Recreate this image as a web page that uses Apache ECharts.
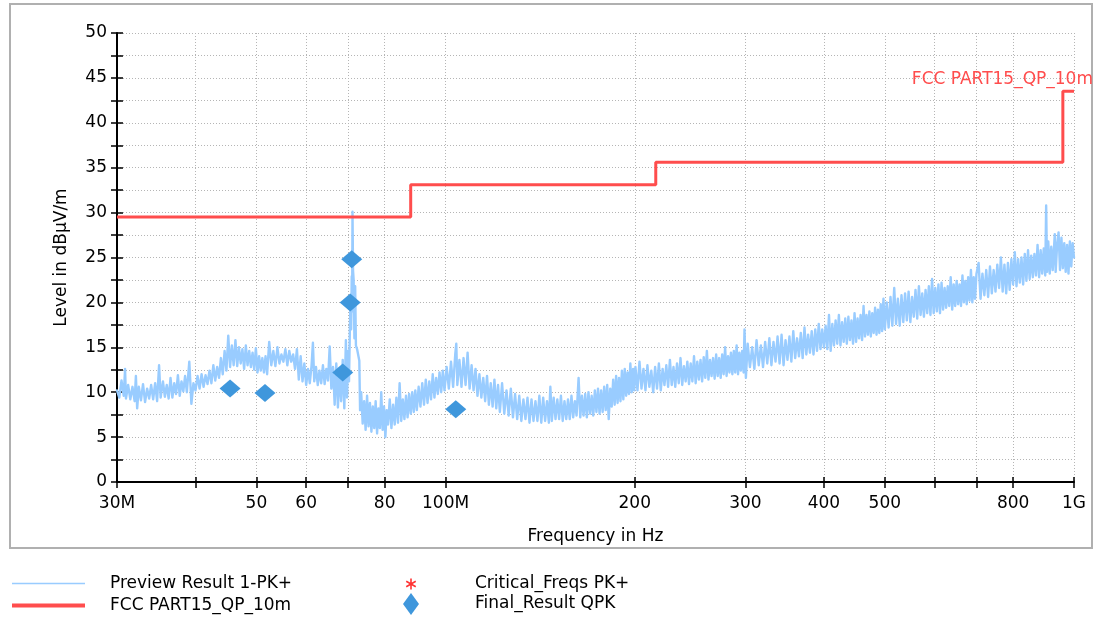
<!DOCTYPE html>
<html>
<head>
<meta charset="utf-8">
<script src="https://cdn.jsdelivr.net/npm/echarts@6/dist/echarts.min.js"></script>
<style>
  html, body { margin: 0; padding: 0; background: #fff; }
  #chart { width: 1102px; height: 617px; }
</style>
</head>
<body>
<div id="chart"></div>
<script>
// frequency in MHz, level in dBµV/m
var previewTrace = [
  // 30 - 40 MHz
  [30.00,10.2],[30.25,9.4],[30.50,11.3],[30.75,9.6],[30.90,12.6],[31.00,9.3],[31.25,10.8],[31.50,9.2],[31.75,10.6],[32.00,9.0],
  [32.15,11.8],[32.30,8.2],[32.50,10.6],[32.75,9.1],[33.00,10.9],[33.25,8.9],[33.50,10.4],[33.75,9.3],[34.00,10.8],[34.25,9.2],
  [34.50,11.0],[34.75,9.0],[35.00,13.0],[35.20,9.4],[35.50,11.2],[35.75,9.5],[36.00,10.8],[36.25,9.3],[36.50,11.6],[36.75,9.4],
  [37.00,11.0],[37.25,9.8],[37.50,11.9],[37.75,9.6],[38.00,11.2],[38.25,10.1],[38.50,11.8],[38.75,10.0],[39.10,13.4],[39.40,8.7],
  [39.70,11.0],[40.00,10.2],
  // 40 - 52 MHz
  [40.3,11.8],[40.6,10.4],[40.9,12.0],[41.2,10.6],[41.5,11.9],[41.8,10.9],[42.1,12.4],[42.4,11.0],[42.7,13.0],[43.0,11.3],
  [43.3,12.8],[43.6,11.6],[43.9,13.8],[44.2,12.0],[44.5,14.6],[44.8,12.4],[45.1,16.3],[45.4,12.8],[45.7,15.2],[46.0,13.0],
  [46.3,15.8],[46.6,12.9],[46.9,15.0],[47.2,13.2],[47.5,14.8],[47.8,12.6],[48.1,15.2],[48.4,13.0],[48.7,14.6],[49.0,12.8],
  [49.3,14.4],[49.6,12.5],[49.9,14.9],[50.2,12.2],[50.5,14.0],[50.8,12.4],[51.1,13.8],[51.4,12.2],[51.7,14.0],[52.0,12.0],
  // 52 - 70 MHz
  [52.4,15.6],[52.8,13.0],[53.2,14.6],[53.6,12.9],[54.0,15.0],[54.4,13.2],[54.8,14.2],[55.2,13.4],[55.6,14.8],[56.0,13.0],
  [56.4,14.6],[56.8,13.4],[57.2,14.2],[57.6,12.6],[58.0,14.8],[58.4,11.4],[58.8,14.0],[59.2,11.2],[59.6,13.2],[60.0,10.8],
  [60.4,12.6],[60.8,11.0],[61.2,13.0],[61.5,15.5],[61.8,11.2],[62.2,12.8],[62.6,10.8],[63.0,12.4],[63.4,11.0],[63.8,13.0],
  [64.2,10.9],[64.6,12.6],[65.0,11.3],[65.4,15.1],[65.8,10.4],[66.2,12.8],[66.6,8.6],[67.0,13.2],[67.4,8.3],[67.8,12.2],
  [68.2,9.0],[68.6,13.6],[69.0,8.2],[69.4,15.8],[69.7,9.4],[70.0,14.6],
  // emission around 71 MHz
  [70.2,11.2],[70.4,16.5],[70.6,20.6],[70.75,17.0],[70.9,22.9],[71.0,19.0],[71.1,30.1],[71.25,23.5],[71.4,22.5],[71.6,16.0],
  [71.8,21.8],[72.0,15.2],[72.3,14.8],[72.6,14.9],[72.9,13.5],[73.1,8.0],
  // 73 - 100 MHz
  [73.4,10.0],[73.8,6.5],[74.2,9.0],[74.6,5.8],[75.0,9.6],[75.4,6.2],[75.8,8.8],[76.2,5.6],[76.6,8.4],[77.0,6.0],
  [77.4,9.0],[77.8,5.4],[78.2,8.2],[78.6,6.0],[79.0,10.0],[79.4,5.8],[79.8,8.4],[80.2,5.0],[80.6,8.0],[81.0,6.4],
  [81.5,9.2],[82.0,6.0],[82.5,8.6],[83.0,6.4],[83.5,9.4],[84.0,6.6],[84.5,11.0],[85.0,6.8],[85.5,9.2],[86.0,7.0],
  [86.5,9.6],[87.0,7.2],[87.5,9.8],[88.0,7.6],[88.5,10.0],[89.0,7.8],[89.5,10.2],[90.0,8.0],[90.6,10.6],[91.2,8.4],
  [91.8,11.0],[92.4,8.6],[93.0,11.4],[93.6,8.8],[94.2,11.2],[94.8,9.2],[95.4,12.0],[96.0,9.4],[96.6,11.6],[97.2,9.8],
  [97.8,12.2],[98.4,10.0],[99.0,12.4],[99.6,10.2],
  // 100 - 200 MHz
  [100.4,12.8],[101.2,10.4],[102.0,13.4],[102.8,10.6],[103.6,14.2],[104.0,15.4],[104.4,10.8],[105.2,13.6],[106.0,10.6],[106.8,13.8],
  [107.6,10.8],[108.4,14.4],[109.2,10.4],[110.0,13.0],[110.8,10.2],[111.6,12.6],[112.4,9.6],[113.2,12.0],[114.0,9.4],[114.8,11.6],
  [115.6,9.0],[116.4,11.8],[117.2,8.6],[118.0,11.0],[118.8,8.4],[119.6,11.4],[120.4,8.2],[121.2,10.8],[122.0,7.8],[123.0,11.0],
  [124.0,7.6],[125.0,10.2],[126.0,7.4],[127.0,10.4],[128.0,7.2],[129.0,9.8],[130.0,7.0],
  [131.0,9.6],[132.0,6.8],[133.0,9.2],[134.0,7.0],[135.0,9.4],[136.0,6.6],[137.0,9.2],[138.0,6.8],[139.0,9.0],[140.0,6.8],
  [141.0,9.6],[142.0,6.6],[143.0,9.4],[144.0,6.8],[145.0,9.0],[146.0,6.6],[146.8,10.6],[147.6,6.8],[148.6,9.4],[149.6,7.0],
  [150.6,9.2],[151.6,7.0],[152.6,9.6],[153.6,6.8],[154.6,9.0],[155.6,7.0],[156.6,9.2],[157.6,7.0],[158.6,9.6],[159.6,7.2],
  [160.6,9.0],[161.6,7.4],[162.8,11.6],[163.8,7.2],[164.8,9.6],[165.8,7.4],[166.8,9.8],[167.8,7.2],[168.8,10.0],[169.8,7.6],
  [170.8,9.6],[171.8,7.4],[172.8,10.2],[173.8,7.8],[174.8,10.4],[175.8,7.6],[176.8,10.2],[177.8,7.8],[178.8,10.6],[179.8,8.0],
  [180.8,10.8],[181.8,7.0],[182.8,10.4],[183.8,8.4],[184.8,11.4],[185.8,8.6],[186.8,11.8],[187.8,8.8],[188.8,11.6],[189.8,9.0],
  [190.8,12.4],[191.8,9.2],[192.8,12.6],[193.8,9.6],[194.8,12.2],[195.8,9.8],[196.8,13.2],[197.8,10.0],[198.8,12.6],[199.6,10.2],
  // 200 - 300 MHz
  [200.5,12.8],[202,10.2],[203.5,13.4],[205,10.4],[206.5,12.6],[208,10.2],[209.5,13.0],[211,10.6],[212.5,12.4],[214,10.0],
  [215.5,12.8],[217,10.4],[218.5,13.2],[220,10.2],[221.5,12.6],[223,10.8],[224.5,13.0],[226,10.6],[227.5,13.6],[229,10.8],
  [230.5,12.8],[232,10.6],[233.5,13.2],[235,11.0],[236.5,13.8],[238,10.8],[239.5,12.9],[241,11.2],[242.5,13.4],[244,10.9],
  [245.5,13.2],[247,11.2],[248.5,14.0],[250,11.0],[251.5,13.4],[253,11.4],[254.5,13.6],[256,11.2],[257.5,13.9],[259,11.6],
  [260.5,14.6],[262,11.4],[263.5,13.6],[265,11.8],[266.5,13.8],[268,11.5],[269.5,14.2],[271,11.8],[272.5,13.8],[274,11.6],
  [275.5,14.2],[277,12.0],[278.5,15.0],[280,11.8],[281.5,14.0],[283,12.2],[284.5,14.4],[286,12.0],[287.5,14.6],[289,12.2],
  [290.5,15.2],[292,12.0],[293.5,14.4],[295,12.4],[296.5,14.6],[298,12.2],[299,17.0],[300.5,11.6],
  // 300 - 500 MHz
  [302.5,15.4],[305,12.8],[307.5,15.0],[310,12.6],[312.5,15.8],[315,13.0],[317.5,15.2],[320,12.8],[322.5,15.6],[325,13.2],
  [327.5,16.0],[330,13.0],[332.5,15.6],[335,13.4],[337.5,16.2],[340,13.2],[342.5,16.4],[345,13.0],[347.5,15.8],[350,13.6],
  [352.5,16.2],[355,13.4],[357.5,16.8],[360,13.8],[362.5,16.0],[365,14.0],[367.5,16.6],[370,13.8],[372.5,17.2],[375,14.2],
  [377.5,16.4],[380,14.4],[382.5,16.8],[385,14.2],[387.5,17.0],[390,14.6],[392.5,17.6],[395,14.8],[397.5,17.0],[400,15.0],
  [402.5,17.4],[405,14.8],[407.5,18.6],[410,14.6],[412.5,17.6],[415,15.2],[417.5,18.0],[420,15.4],[422.5,18.6],[425,15.2],
  [427.5,17.8],[430,15.6],[432.5,18.2],[435,15.4],[437.5,18.4],[440,15.8],[442.5,18.0],[445,15.4],[447.5,18.8],[450,15.6],
  [452.5,18.2],[455,16.0],[457.5,18.6],[460,15.8],[462.5,19.6],[465,16.2],[467.5,18.6],[470,16.4],[472.5,19.0],[475,16.2],
  [477.5,18.8],[480,16.6],[482.5,19.4],[485,16.4],[487.5,19.2],[490,16.6],[492.5,19.8],[495,16.8],[497.5,20.4],[500,17.0],
  // 500 - 700 MHz
  [503.5,20.0],[507,17.2],[510.5,20.6],[514,17.4],[517.5,21.6],[521,17.6],[524.5,20.4],[528,17.4],[531.5,20.8],[535,17.8],
  [538.5,21.0],[542,18.0],[545.5,21.2],[549,17.8],[552.5,20.6],[556,18.4],[559.5,21.4],[563,18.2],[566.5,21.8],[570,18.6],
  [573.5,21.0],[577,18.4],[580.5,21.4],[584,18.8],[587.5,21.8],[591,18.6],[594.5,22.6],[598,18.8],[601.5,21.6],[605,19.0],
  [608.5,22.0],[612,18.8],[615.5,22.2],[619,19.2],[622.5,21.6],[626,19.4],[629.5,21.8],[633,19.6],[636.5,22.8],[640,19.2],
  [643.5,22.0],[647,19.6],[650.5,22.4],[654,19.8],[657.5,22.0],[661,19.6],[664.5,23.0],[668,20.0],[671.5,22.4],[675,19.8],
  [678.5,22.8],[682,20.2],[685.5,23.6],[689,20.0],[692.5,22.8],[696,20.4],[699.5,23.2],
  // 700 - 1000 MHz
  [705,24.4],[710,20.4],[715,23.2],[720,20.8],[725,23.6],[730,20.6],[735,24.0],[740,21.0],[745,23.6],[750,21.2],
  [755,24.2],[760,21.6],[765,25.0],[770,21.2],[775,24.2],[780,21.0],[785,24.4],[790,21.4],[795,24.8],[800,22.0],
  [805,25.6],[810,21.8],[815,24.8],[820,22.2],[825,25.0],[830,22.0],[835,25.4],[840,22.4],[845,25.8],[850,22.6],
  [855,25.2],[860,22.8],[865,25.4],[870,23.0],[875,26.4],[880,22.8],[885,25.8],[890,23.2],[895,26.0],[900,23.0],
  [903,30.8],[906,23.4],[910,26.8],[915,23.2],[920,26.2],[925,23.6],[932,27.6],[935,23.4],[940,26.4],[945,27.8],
  [950,23.6],[955,27.2],[960,23.8],[965,26.6],[970,23.4],[975,26.4],[980,23.2],[985,26.8],[990,24.0],[995,26.6],
  [1000,25.0]
];

// FCC part 15 class B QP limit at 10 m: breakpoints (MHz) and levels
var limitFreq  = [30, 88, 216, 960, 1000];
var limitLevel = [29.5, 33.1, 35.6, 43.5, 43.5];

// final QPK measurements
var finalFreq  = [45.4, 51.6, 68.6, 70.5, 70.9, 103.8];
var finalLevel = [10.4, 9.9, 12.2, 20.0, 24.8, 8.1];

var xTickValues  = [30, 40, 50, 60, 70, 80, 100, 200, 300, 400, 500, 600, 700, 800, 1000];
var xLabelValues = [30, 50, 60, 80, 100, 200, 300, 400, 500, 800, 1000];
var xLabelTexts  = ['30M', '50', '60', '80', '100M', '200', '300', '400', '500', '800', '1G'];

var FONT = 'DejaVu Sans';
var FS = 17;
// legend icons (corner dots keep the box size so the shapes are not stretched)
var thinLine  = 'path://M0,0L0.01,0Z M73,14L72.99,14Z M0,6.3H73V7.7H0Z';
var thickLine = 'path://M0,0L0.01,0Z M73,14L72.99,14Z M0,5H73V9H0Z';
var asterisk = 'path://M0,0L0.01,0Z M14,20L13.99,20Z M6.2,4.5L7.8,4.5L7.8,15.5L6.2,15.5Z ' +
  'M2.64,6.56L12.16,12.06L11.36,13.44L1.84,7.94Z M11.36,6.56L12.16,7.94L2.64,13.44L1.84,12.06Z';

var mychart = echarts.init(document.getElementById('chart'));

function pairs(xs, ys) {
  var out = [];
  for (var i = 0; i < xs.length; i++) out.push([xs[i], ys[i]]);
  return out;
}
function legendAt(left, top, w, h, pad, item) {
  return {
    left: left, top: top, orient: 'vertical', padding: 0,
    itemWidth: w, itemHeight: h,
    itemStyle: { borderWidth: 0 },
    data: [item],
    textStyle: { fontFamily: FONT, fontSize: FS, color: '#000', padding: [0, 0, 0, pad] }
  };
}

var gridDots = { show: true, lineStyle: { color: '#b5b5b5', width: 1, type: [1, 2] } };

var option = {
  backgroundColor: '#fff',
  animation: false,
  graphic: [{
    type: 'rect', z: -10, silent: true,
    shape: { x: 10, y: 4, width: 1082, height: 544 },
    style: { fill: 'none', stroke: '#b0b0b0', lineWidth: 2 }
  }],
  grid: { left: 117, right: 28, top: 33, bottom: 135 },
  legend: [
    legendAt(12, 575, 73, 14, 20, { name: 'Preview Result 1-PK+', icon: thinLine }),
    legendAt(12, 597, 73, 14, 20, { name: 'FCC PART15_QP_10m', icon: thickLine }),
    legendAt(404, 574, 14, 20, 52, { name: 'Critical_Freqs PK+', icon: asterisk }),
    legendAt(403, 593, 16, 22, 51, { name: 'Final_Result QPK', icon: 'diamond' })
  ],
  xAxis: [{
    type: 'log', logBase: 10, min: 30, max: 1000,
    name: 'Frequency in Hz', nameLocation: 'middle', nameGap: 46,
    nameTextStyle: { fontFamily: FONT, fontSize: FS, color: '#000' },
    axisLine: { show: true, onZero: false, lineStyle: { color: '#000', width: 2 } },
    axisTick: { show: true, length: 6, customValues: xTickValues, lineStyle: { color: '#000', width: 1.5 } },
    axisLabel: {
      customValues: xLabelValues, margin: 13,
      fontFamily: FONT, fontSize: FS, color: '#000',
      formatter: function (v) {
        var k = xLabelValues.indexOf(Math.round(v));
        return k >= 0 ? xLabelTexts[k] : '';
      }
    },
    splitLine: gridDots,
    minorTick: { show: false }
  }, {
    type: 'log', logBase: 10, min: 30, max: 1000, position: 'bottom',
    axisLine: { show: false },
    axisTick: { show: true, inside: true, length: 5, customValues: xTickValues, lineStyle: { color: '#000', width: 1.5 } },
    axisLabel: { show: false },
    splitLine: { show: false }
  }],
  yAxis: [{
    type: 'value', min: 0, max: 50, interval: 2.5,
    name: 'Level in dBµV/m', nameLocation: 'middle', nameGap: 47,
    nameTextStyle: { fontFamily: FONT, fontSize: FS, color: '#000' },
    axisLine: { show: true, lineStyle: { color: '#000', width: 2 } },
    axisTick: { show: true, length: 6, lineStyle: { color: '#000', width: 1.5 } },
    axisLabel: {
      margin: 10, fontFamily: FONT, fontSize: FS, color: '#000',
      formatter: function (v) { return v % 5 === 0 ? String(v) : ''; }
    },
    splitLine: gridDots
  }, {
    type: 'value', min: 0, max: 50, interval: 2.5, position: 'left',
    axisLine: { show: false },
    axisTick: { show: true, inside: true, length: 6, lineStyle: { color: '#000', width: 1.5 } },
    axisLabel: { show: false },
    splitLine: { show: false }
  }],
  series: [{
    name: 'Preview Result 1-PK+',
    type: 'line',
    data: previewTrace,
    symbol: 'none', sampling: null,
    lineStyle: { color: '#99ccff', width: 2.4, join: 'round', cap: 'round' },
    itemStyle: { color: '#99ccff' },
    z: 2
  }, {
    name: 'FCC PART15_QP_10m',
    type: 'line', step: 'end',
    data: pairs(limitFreq, limitLevel),
    symbol: 'none',
    lineStyle: { color: '#ff4d4d', width: 3 },
    itemStyle: { color: '#ff4d4d' },
    endLabel: {
      show: true, formatter: 'FCC PART15_QP_10m',
      fontFamily: FONT, fontSize: FS, color: '#ff4d4d',
      align: 'right', verticalAlign: 'bottom', offset: [11, -3]
    },
    z: 3
  }, {
    name: 'Critical_Freqs PK+',
    type: 'scatter',
    data: [],
    symbol: asterisk, symbolSize: 12,
    itemStyle: { color: '#ff0000' }
  }, {
    name: 'Final_Result QPK',
    type: 'scatter',
    data: pairs(finalFreq, finalLevel),
    symbol: 'diamond', symbolSize: [21, 18],
    itemStyle: { color: '#3f97dc', opacity: 1 },
    z: 4
  }]
};

mychart.setOption(option);
</script>
</body>
</html>
